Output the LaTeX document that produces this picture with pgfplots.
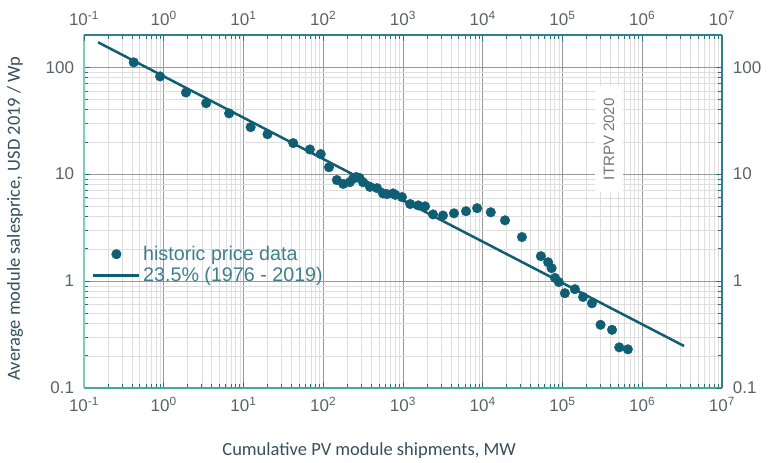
\documentclass[border=0pt]{standalone}
\usepackage{pgfplots}
\pgfplotsset{compat=1.18}
\usepackage{fontspec}
\setmainfont{Liberation Sans}
\newfontfamily\carlito{Carlito}
\definecolor{datacol}{HTML}{0F5E73}
\definecolor{mintcol}{HTML}{7CCFC0}
\definecolor{botcol}{HTML}{45A89A}
\definecolor{topcol}{HTML}{2F7F8E}
\definecolor{tickcol}{HTML}{596367}
\definecolor{legcol}{HTML}{3E7F8C}
\definecolor{labcol}{HTML}{34505A}
\definecolor{tickteal}{HTML}{2A6F7E}
\pgfplotsset{
  lineleg/.style={legend image code/.code={\draw[##1] (0pt,0pt) -- (46pt,0pt);}},
  markleg/.style={legend image code/.code={\draw[##1] plot coordinates {(23pt,0pt)};}},
}
\begin{document}
\begin{tikzpicture}
\path[use as bounding box] (0,0) rectangle (769pt,463pt);
\begin{axis}[
    xmode=log, ymode=log,
    scale only axis, width=638pt, height=353pt,
    at={(84pt,75pt)}, anchor=south west,
    xmin=0.1, xmax=1e7, ymin=0.1, ymax=200,
    xtick={0.1,1,10,100,1000,1e4,1e5,1e6,1e7},
    xticklabels={10\textsuperscript{-1},10\textsuperscript{0},10\textsuperscript{1},10\textsuperscript{2},10\textsuperscript{3},10\textsuperscript{4},10\textsuperscript{5},10\textsuperscript{6},10\textsuperscript{7}},
    ytick={0.1,1,10,100},
    yticklabels={0.1,1,10,100},
    minor xtick={0.2,0.3,0.4,0.5,0.6,0.7,0.8,0.9,2,3,4,5,6,7,8,9,20,30,40,50,60,70,80,90,200,300,400,500,600,700,800,900,2000,3000,4000,5000,6000,7000,8000,9000,2e4,3e4,4e4,5e4,6e4,7e4,8e4,9e4,2e5,3e5,4e5,5e5,6e5,7e5,8e5,9e5,2e6,3e6,4e6,5e6,6e6,7e6,8e6,9e6},
    minor ytick={0.2,0.3,0.4,0.5,0.6,0.7,0.8,0.9,2,3,4,5,6,7,8,9,20,30,40,50,60,70,80,90,200},
    tick label style={font=\fontsize{17}{19}\selectfont, text=tickcol, inner sep=1pt},
    xticklabel style={yshift=-8.2pt},
    yticklabel style={xshift=-8.7pt},
    tick style={draw=tickteal, line width=0.8pt},
    major tick length=6pt, minor tick length=4pt,
    tick align=inside,
    axis x line*=bottom, axis y line*=left,
    x axis line style={draw=botcol, line width=1.8pt},
    y axis line style={draw=mintcol, line width=1.8pt},
    grid=both,
    major grid style={draw=black!40, line width=0.8pt},
    minor grid style={draw=black!13, line width=0.6pt},
    xlabel={Cumulative PV module shipments, MW},
    ylabel={Average module salesprice, USD 2019 / Wp},
    x label style={at={(axis description cs:0.447,-0.178)}, anchor=center, font=\carlito\fontsize{18.5}{20}\selectfont, text=labcol},
    y label style={at={(axis description cs:-0.108,0.480)}, anchor=center, font=\carlito\fontsize{18.5}{20}\selectfont, text=labcol},
    reverse legend,
    legend style={at={(axis description cs:0.0125,0.409)}, anchor=north west, draw=none, fill=none, inner sep=0pt,
      font=\fontsize{19.7}{21}\selectfont, text=legcol, row sep=0.5pt, nodes={inner sep=2.5pt}},
    legend cell align=left,
  ]
  \addplot[datacol, line width=2.5pt, lineleg]
    coordinates {(0.15,171) (3.34e6,0.247)};
  \addlegendentry{23.5\% (1976 - 2019)}
  \addplot[only marks, mark=*, mark size=4.8pt, color=datacol, markleg]
    coordinates {
    (0.42,111) (0.90,82) (1.9,58) (3.4,46) (6.6,37) (12.3,27.5) (20,23.6)
    (42,19.5) (68,17) (93,15.4) (118,11.6) (148,8.8) (178,8.1) (215,8.4)
    (235,9.0) (260,9.4) (285,9.2) (315,8.4) (385,7.6) (472,7.4) (561,6.6) (630,6.5)
    (750,6.6) (800,6.4) (970,6.1) (1230,5.25) (1550,5.1) (1890,5.0) (2380,4.2)
    (3170,4.1) (4360,4.3) (6170,4.5) (8500,4.8) (12600,4.4) (19000,3.7)
    (31000,2.58) (53600,1.71) (66000,1.5) (73000,1.32) (80500,1.07) (90000,0.98)
    (107000,0.77) (143000,0.84) (181000,0.71) (234000,0.62) (300000,0.39)
    (418000,0.35) (515000,0.24) (660000,0.23)
    };
  \addlegendentry{historic price data}
  \node[rotate=90, fill=white, text=black!55, inner xsep=12pt, inner ysep=9pt,
    font=\fontsize{15}{17}\selectfont] at (axis cs:3.83e5,21.2) {ITRPV 2020};
\end{axis}
\begin{axis}[
    xmode=log, ymode=log,
    scale only axis, width=638pt, height=353pt,
    at={(84pt,75pt)}, anchor=south west,
    xmin=0.1, xmax=1e7, ymin=0.1, ymax=200,
    xtick={0.1,1,10,100,1000,1e4,1e5,1e6,1e7},
    xticklabels={10\textsuperscript{-1},10\textsuperscript{0},10\textsuperscript{1},10\textsuperscript{2},10\textsuperscript{3},10\textsuperscript{4},10\textsuperscript{5},10\textsuperscript{6},10\textsuperscript{7}},
    ytick={0.1,1,10,100},
    yticklabels={0.1,1,10,100},
    minor xtick={0.2,0.3,0.4,0.5,0.6,0.7,0.8,0.9,2,3,4,5,6,7,8,9,20,30,40,50,60,70,80,90,200,300,400,500,600,700,800,900,2000,3000,4000,5000,6000,7000,8000,9000,2e4,3e4,4e4,5e4,6e4,7e4,8e4,9e4,2e5,3e5,4e5,5e5,6e5,7e5,8e5,9e5,2e6,3e6,4e6,5e6,6e6,7e6,8e6,9e6},
    minor ytick={0.2,0.3,0.4,0.5,0.6,0.7,0.8,0.9,2,3,4,5,6,7,8,9,20,30,40,50,60,70,80,90,200},
    tick label style={font=\fontsize{17}{19}\selectfont, text=tickcol, inner sep=1pt},
    xticklabel style={yshift=7.7pt},
    yticklabel style={xshift=9.7pt},
    tick style={draw=tickteal, line width=0.8pt},
    major tick length=6pt, minor tick length=4pt,
    tick align=inside,
    axis x line*=top, axis y line*=right,
    x axis line style={draw=topcol, line width=1.8pt},
    y axis line style={draw=topcol, line width=1.8pt},
  ]
\end{axis}
\end{tikzpicture}
\end{document}
